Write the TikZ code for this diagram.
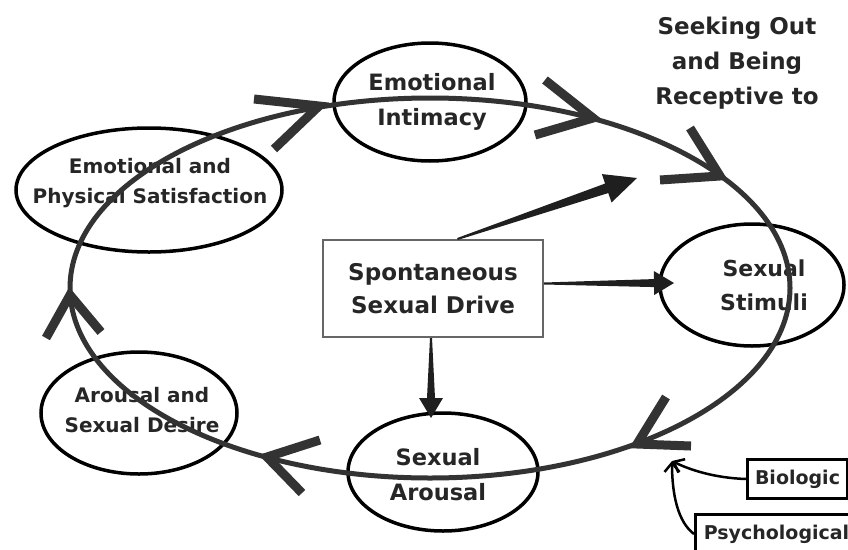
\documentclass[tikz,border=0pt]{standalone}
\usepackage{fontspec}
\setmainfont{DejaVu Sans}
\usetikzlibrary{shapes.geometric,calc,arrows.meta}
\definecolor{ink}{HTML}{262626}
\definecolor{curve}{HTML}{333333}
\tikzset{
  stage/.style={ellipse, draw=black, line width=3.5pt, inner sep=0pt},
  stagetext/.style={align=center, text=ink, inner sep=0pt, font=\bfseries\fontsize{20}{30}\selectfont},
  bigtext/.style={font=\bfseries\fontsize{22.5}{35}\selectfont},
  cyc/.style={draw=curve, line width=5pt},
  chev/.style={draw=curve, line width=9pt, line cap=butt, line join=miter},
  tagbox/.style={draw=black, line width=3pt, inner sep=0pt, anchor=north west, text=ink,
    font=\bfseries\fontsize{19}{24}\selectfont},
  link/.style={draw=black, line width=2.5pt, -{Straight Barb[length=9pt,width=15pt,line width=2.5pt]}},
  taperfill/.style={fill=black!88}
}
% tail, tip, head length, shaft half width, barb half width
\newcommand\taperarrow[5]{%
  \path (#2) coordinate (tpB) ($(#2)!#3!(#1)$) coordinate (tpH) (#1) coordinate (tpA);
  \fill[taperfill] ($(tpA)!1pt!90:(tpB)$) -- ($(tpH)!#4!90:(tpB)$) -- ($(tpH)!#5!90:(tpB)$) -- (tpB)
     -- ($(tpH)!#5!-90:(tpB)$) -- ($(tpH)!#4!-90:(tpB)$) -- ($(tpA)!1pt!-90:(tpB)$) -- cycle;}
\begin{document}
\begin{tikzpicture}[x=1pt,y=-1pt]
\useasboundingbox (0,0) rectangle (848,549);
\clip (0,0) rectangle (848,549);

% central box
\node[draw=black!60, line width=2pt, minimum width=220pt, minimum height=97pt, inner sep=0pt,
      align=center, text=ink, font=\bfseries\fontsize{23}{33}\selectfont]
      (drive) at (433,288.5) {Spontaneous\\Sexual Drive};

% stages (outlines)
\node[stage, minimum width=192pt, minimum height=118pt] (intim) at (430,102) {};
\node[stage, minimum width=266pt, minimum height=124pt] (satis) at (149,190) {};
\node[stage, minimum width=196pt, minimum height=122pt] (desire) at (139,413) {};
\node[stage, minimum width=190pt, minimum height=118pt] (arous) at (443,472) {};
\node[stage, minimum width=184pt, minimum height=122pt] (stim) at (752,285) {};
% stage texts
\node[stagetext, bigtext] (intimT) at ($(intim.center)+(2,0)$) {Emotional\\Intimacy};
\node[stagetext] (satisT) at ($(satis.center)+(1,-7)$) {Emotional and\\Physical Satisfaction};
\node[stagetext] (desireT) at ($(desire.center)+(3,-3)$) {Arousal and\\Sexual Desire};
\node[stagetext, bigtext] (arousT) at ($(arous.center)+(-5,3)$) {Sexual\\Arousal};
\node[stagetext, font=\bfseries\fontsize{22}{34}\selectfont] (stimT) at ($(stim.center)+(12,0)$) {Sexual\\Stimuli};

% tapered arrows from the drive
\coordinate (aimA) at (637,178);
\coordinate (aimB) at (674,283);
\coordinate (aimC) at (431,418);
\taperarrow{$(drive.north west)!0.61!(drive.north east)$}{aimA}{32pt}{5pt}{15pt}
\taperarrow{$(drive.east)+(0,-5)$}{aimB}{20pt}{4pt}{12pt}
\taperarrow{$(drive.south)+(-2,0)$}{aimC}{20pt}{4pt}{12pt}

% the cycle
\draw[cyc] (430,288) ellipse [x radius=360pt, y radius=190pt];

% chevrons along the cycle
\draw[chev] (254,99) -- (319,106) -- (274,149);
\draw[chev] (545,80) -- (593,118) -- (535,135);
\draw[chev] (690,128) -- (720,176) -- (660,180);
\draw[chev] (666,397) -- (637,444) -- (691,446);
\draw[chev] (320,440) -- (267,457) -- (302,493);
\draw[chev] (46,338) -- (70,295) -- (101,332);

% heading
\node[align=center, text=ink, font=\bfseries\fontsize{23}{35}\selectfont] (seek) at (737,63)
  {Seeking Out\\and Being\\Receptive to};

% influences
\node[tagbox, minimum width=100pt, minimum height=39pt] (bio) at (746,458) {Biologic};
\node[tagbox, minimum width=162pt, minimum height=39pt] (psy) at (694,513) {Psychological};
\coordinate (inflow) at (672,461);
\draw[link] (bio.west) .. controls (715,478) and (690,470) .. (inflow);
\draw[link] (psy.west) .. controls (678,522) and (672,495) .. (inflow);
\end{tikzpicture}
\end{document}
